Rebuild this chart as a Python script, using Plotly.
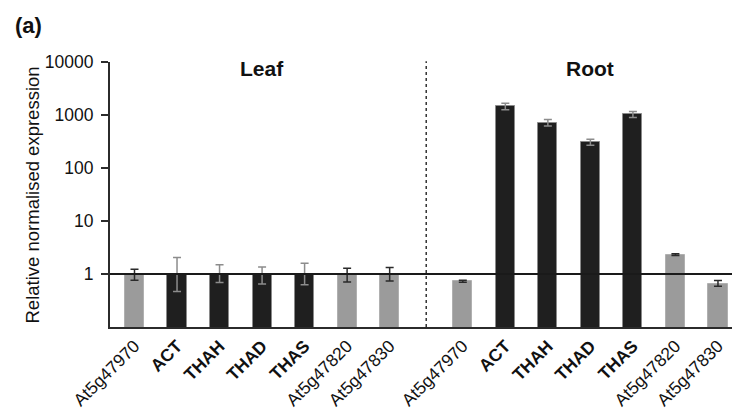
import plotly.graph_objects as go

# Genes measured in each tissue (same order in both groups)
genes = ["At5g47970", "ACT", "THAH", "THAD", "THAS", "At5g47820", "At5g47830"]
highlight = ["ACT", "THAH", "THAD", "THAS"]  # drawn black, bold labels

# Relative normalised expression (leaf = calibrator, set to 1)
leaf_values = [1.0, 1.0, 1.0, 1.0, 1.0, 1.0, 1.0]
leaf_err_plus = [0.23, 1.04, 0.50, 0.36, 0.59, 0.28, 0.32]
leaf_err_minus = [0.24, 0.53, 0.31, 0.35, 0.37, 0.29, 0.26]

root_values = [0.73, 1450, 720, 310, 1030, 2.32, 0.65]
root_err_plus = [0.03, 220, 100, 40, 130, 0.08, 0.10]
root_err_minus = [0.03, 200, 100, 40, 130, 0.08, 0.06]

y_ticks = [1, 10, 100, 1000, 10000]

GAP = 1.72  # spacing between the two tissue groups, in bar slots
leaf_x = [i for i in range(len(genes))]
root_x = [len(genes) - 1 + GAP + i for i in range(len(genes))]

GRAY = "#9b9b9b"
BLACK = "#1f1f1f"

fig = go.Figure()


def add_group(xs, vals, ep, em):
    for dark in (False, True):
        idx = [i for i, g in enumerate(genes) if (g in highlight) == dark]
        fig.add_trace(go.Bar(
            x=[xs[i] for i in idx],
            y=[vals[i] for i in idx],
            width=0.45,
            marker=dict(color=BLACK if dark else GRAY,
                        line=dict(color="#8a8a8a" if dark else "#b0b0b0", width=1)),
            error_y=dict(type="data", symmetric=False,
                         array=[ep[i] for i in idx],
                         arrayminus=[em[i] for i in idx],
                         color="#8c8c8c" if dark else "#2a2a2a",
                         thickness=1.5, width=4),
            showlegend=False,
            hoverinfo="skip",
        ))


add_group(leaf_x, leaf_values, leaf_err_plus, leaf_err_minus)
add_group(root_x, root_values, root_err_plus, root_err_minus)

tick_pos = leaf_x + root_x
tick_txt = [("<b>%s</b>" % g) if g in highlight else g for g in genes] * 2

x_min, x_max = -0.576, root_x[-1] + 0.33

fig.update_layout(
    width=732, height=412,
    margin=dict(l=110, r=0, t=62, b=85),
    paper_bgcolor="white", plot_bgcolor="white",
    font=dict(family="Liberation Sans, Arial, sans-serif", color="#111111"),
    bargap=0,
    xaxis=dict(
        range=[x_min, x_max], tickmode="array", tickvals=tick_pos, ticktext=tick_txt,
        tickangle=-45, ticks="", showgrid=False, zeroline=False,
        showline=True, linecolor="#2b2b2b", linewidth=2,
        tickfont=dict(size=17.5, color="#111111"),
    ),
    yaxis=dict(
        type="log", range=[-1, 4], tickmode="array", tickvals=y_ticks,
        ticktext=[str(v) for v in y_ticks],
        ticks="outside", ticklen=7, tickwidth=2, tickcolor="#2b2b2b",
        showgrid=False, zeroline=False,
        showline=True, linecolor="#2b2b2b", linewidth=2,
        tickfont=dict(size=17.5, color="#111111"),
        ticklabelstandoff=4,
    ),
)

# Reference line at expression = 1
fig.add_shape(type="line", xref="paper", yref="y", x0=0, x1=1, y0=1, y1=1,
              line=dict(color="#1a1a1a", width=2), layer="above")

# Dotted divider between tissues
mid = (leaf_x[-1] + root_x[0]) / 2
fig.add_shape(type="line", xref="x", yref="paper", x0=mid, x1=mid, y0=0, y1=1.003,
              line=dict(color="#333333", width=1.5, dash="dot"))

# Group titles
for xs, name in ((leaf_x, "Leaf"), (root_x, "Root")):
    fig.add_annotation(x=(xs[0] + xs[-1]) / 2, y=0.974, xref="x", yref="paper",
                       text="<b>%s</b>" % name, showarrow=False,
                       font=dict(size=21, color="#111111"), yanchor="middle")

# Axis title
fig.add_annotation(x=-0.1238, y=0.5, xref="paper", yref="paper",
                   text="Relative normalised expression", textangle=-90,
                   showarrow=False, font=dict(size=18.5, color="#111111"),
                   xanchor="center", yanchor="middle")

# Panel label
fig.add_annotation(x=(28 - 110) / 622, y=(412 - 85 - 25) / 265, xref="paper", yref="paper",
                   text="<b>(a)</b>", showarrow=False, font=dict(size=22, color="#111111"),
                   xanchor="center", yanchor="middle")

fig.write_html("out.html")
